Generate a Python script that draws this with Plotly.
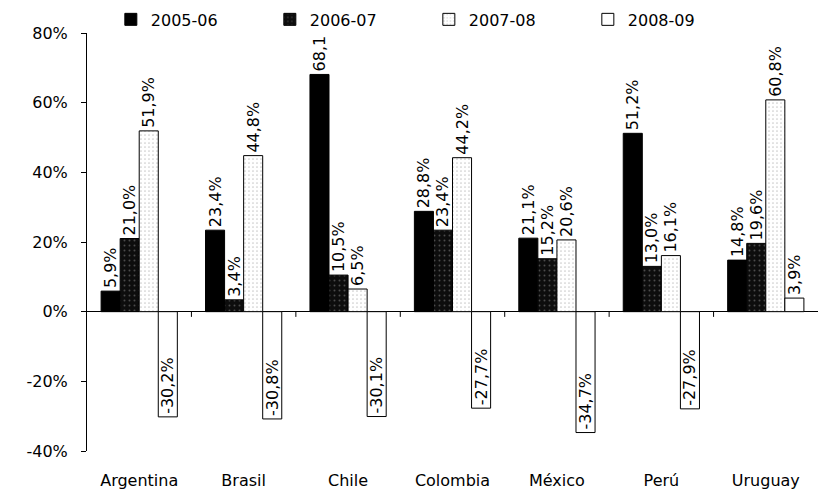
import plotly.graph_objects as go

# Annual growth by country and period
countries = ["Argentina", "Brasil", "Chile", "Colombia", "México", "Perú", "Uruguay"]
periods = ["2005-06", "2006-07", "2007-08", "2008-09"]

v_2005_06 = [5.9, 23.4, 68.1, 28.8, 21.1, 51.2, 14.8]
v_2006_07 = [21.0, 3.4, 10.5, 23.4, 15.2, 13.0, 19.6]
v_2007_08 = [51.9, 44.8, 6.5, 44.2, 20.6, 16.1, 60.8]
v_2008_09 = [-30.2, -30.8, -30.1, -27.7, -34.7, -27.9, 3.9]

y_ticks = [-40, -20, 0, 20, 40, 60, 80]

series = [v_2005_06, v_2006_07, v_2007_08, v_2008_09]

FONT = "DejaVu Sans"

styles = [
    dict(color="#000000", line=dict(color="#000000", width=1)),
    dict(color="#0d0d0d", line=dict(color="#000000", width=1),
         pattern=dict(shape=".", fgcolor="#8a8a8a", size=5, solidity=0.12, fillmode="overlay")),
    dict(color="#ffffff", line=dict(color="#000000", width=1),
         pattern=dict(shape=".", fgcolor="#9a9a9a", size=4, solidity=0.15, fillmode="overlay")),
    dict(color="#ffffff", line=dict(color="#000000", width=1)),
]


def fmt(v):
    return f"{v:.1f}%".replace(".", ",")


fig = go.Figure()
for name, vals, st in zip(periods, series, styles):
    fig.add_trace(go.Bar(
        name=name,
        x=countries,
        y=vals,
        marker=st,
        text=[fmt(v) for v in vals],
        textposition=["outside" if v >= 0 else "inside" for v in vals],
        insidetextanchor="end",
        textangle=-90,
        textfont=dict(family=FONT, size=16, color="#000000"),
        insidetextfont=dict(family=FONT, size=16, color="#000000"),
        outsidetextfont=dict(family=FONT, size=16, color="#000000"),
        constraintext="none",
        cliponaxis=False,
    ))

# short tick marks on the zero line between country groups
shapes = []
for i in range(len(countries) - 1):
    shapes.append(dict(type="line", xref="x", yref="y",
                       x0=i + 0.5, x1=i + 0.5, y0=0, y1=-1.5,
                       line=dict(color="#000000", width=1)))

fig.update_layout(
    width=821, height=490,
    margin=dict(l=87, r=3, t=33, b=39, autoexpand=False),
    paper_bgcolor="white", plot_bgcolor="white",
    barmode="group", bargap=0.27, bargroupgap=0,
    font=dict(family=FONT, size=16, color="#000000"),
    showlegend=True,
    legend=dict(orientation="h", xref="container", yref="container",
                x=0.135, y=0.995, xanchor="left", yanchor="top",
                entrywidth=114, entrywidthmode="pixels",
                font=dict(family=FONT, size=16, color="#000000"),
                bgcolor="rgba(255,255,255,1)", traceorder="normal"),
    shapes=shapes,
    uniformtext=dict(mode=False),
)

fig.update_yaxes(
    range=[-40, 80], tickvals=y_ticks, ticktext=[f"{t}%" for t in y_ticks],
    showgrid=False, zeroline=True, zerolinecolor="#000000", zerolinewidth=1,
    showline=True, linecolor="#000000", linewidth=1,
    ticks="outside", ticklen=5, tickcolor="#000000",
    ticklabelstandoff=10,
    tickfont=dict(family=FONT, size=16, color="#000000"),
)
fig.update_xaxes(
    showgrid=False, showline=False, ticks="",
    ticklabelstandoff=18,
    tickfont=dict(family=FONT, size=16, color="#000000"),
)

fig.write_html("out.html")
